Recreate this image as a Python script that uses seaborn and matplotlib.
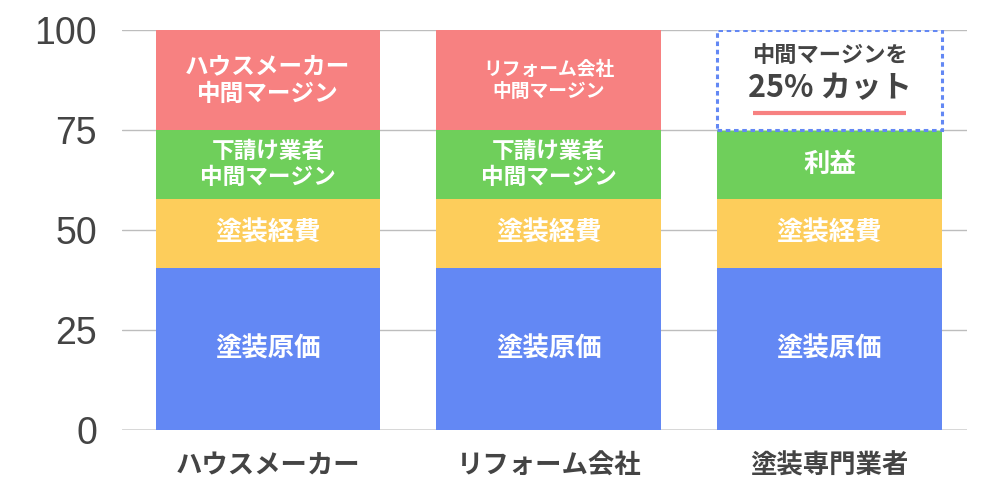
import numpy as np
import matplotlib
matplotlib.use('Agg')
import matplotlib.pyplot as plt
import seaborn as sns

# data
companies = ['ハウスメーカー', 'リフォーム会社', '塗装専門業者']
genka = [40.5, 40.5, 40.5]
keihi = [17.25, 17.25, 17.25]
shitauke = [17.25, 17.25, 17.25]
margin = [25, 25, 25]
genka_labels = ['塗装原価', '塗装原価', '塗装原価']
keihi_labels = ['塗装経費', '塗装経費', '塗装経費']
shitauke_labels = ['下請け業者\n中間マージン', '下請け業者\n中間マージン', '利益']
margin_labels = ['ハウスメーカー\n中間マージン', 'リフォーム会社\n中間マージン', '']
cut_line1 = '中間マージンを'
cut_line2 = '25% カット'
y_ticks = [0, 25, 50, 75, 100]

sns.set_theme(style='white')
plt.rcParams['font.family'] = ['Noto Sans CJK JP', 'DejaVu Sans']

RED = '#F78181'
GREEN = '#6FCF5B'
YELLOW = '#FDCD5B'
BLUE = '#6388F4'
DARK = '#444444'

fig = plt.figure(figsize=(10, 5), dpi=100)
ax = fig.add_axes([0.122, 0.14, 0.845, 0.80])

# grid first so bars sit on top
for t in y_ticks:
    ax.axhline(t, color='#D4D4D4' if t == 0 else '#BDBDBD',
               lw=2 if t == 0 else 1, zorder=0)

layers = [genka, keihi, shitauke, margin]
colors = [BLUE, YELLOW, GREEN, RED]
labels = [genka_labels, keihi_labels, shitauke_labels, margin_labels]
sizes = [[19, 19, 19], [19, 19, 19], [16.3, 16.3, 19], [17, 13.5, 0]]

bottom = np.zeros(len(companies))
for vals, col, labs, szs in zip(layers, colors, labels, sizes):
    n_before = len(ax.patches)
    sns.barplot(x=companies, y=vals, bottom=bottom, color=col,
                width=0.8, saturation=1, ax=ax, zorder=2)
    for p in ax.patches[n_before:]:
        p.set_edgecolor('none')
    for i, (lab, v) in enumerate(zip(labs, vals)):
        if lab:
            ax.text(i, bottom[i] + v / 2, lab, ha='center', va='center',
                    color='white', fontsize=szs[i], fontweight='bold',
                    linespacing=1.2, zorder=3)
    bottom = bottom + np.array(vals)

# specialist: margin cut -> dashed empty box
box = ax.patches[-1]
box.set_facecolor('white')
box.set_edgecolor(BLUE)
box.set_linewidth(2.2)
box.set_linestyle((0, (1.5, 1.2)))
box.set_zorder(2.5)

i = 2
b = bottom[i] - margin[i]
ax.text(i, b + margin[i] * 0.75, cut_line1, ha='center', va='center',
        color=DARK, fontsize=16, fontweight='bold', zorder=3)
ax.text(i, b + margin[i] * 0.42, cut_line2, ha='center', va='center',
        color=DARK, fontsize=22, fontweight='bold', zorder=3)
ax.plot([i - 0.274, i + 0.274], [b + margin[i] * 0.17] * 2,
        color=RED, lw=3, solid_capstyle='butt', zorder=3)

ax.set_ylim(0, 100)
ax.set_xlim(-0.52, 2.49)
ax.set_yticks(y_ticks)
ax.set_yticklabels([str(t) for t in y_ticks], fontsize=27,
                   color=DARK, family='Liberation Sans')
ax.tick_params(axis='y', length=0, pad=18)
ax.tick_params(axis='x', length=0, pad=16)
for lab in ax.get_xticklabels():
    lab.set_fontsize(19)
    lab.set_fontweight('bold')
    lab.set_color(DARK)
ax.set_xlabel('')
ax.set_ylabel('')
sns.despine(left=True, bottom=True)

plt.savefig('out.png', dpi=100)
plt.close()
